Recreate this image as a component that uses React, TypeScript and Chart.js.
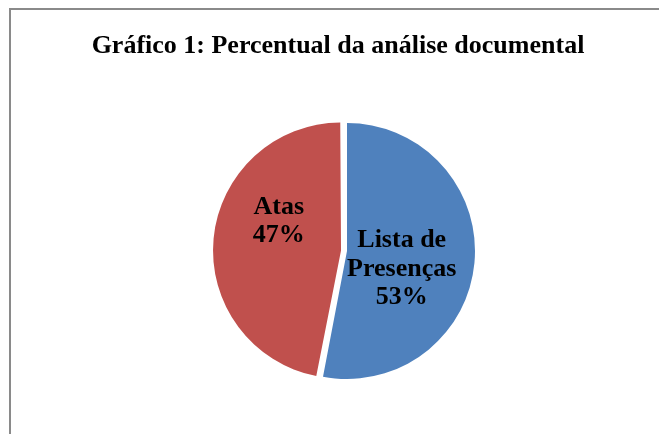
import React, { useEffect, useRef } from "react";
import { Chart, registerables } from "chart.js";

Chart.register(...registerables);

const chartTitle = "Gráfico 1: Percentual da análise documental";
const categories: string[][] = [["Lista de", "Presenças"], ["Atas"]];
const values: number[] = [53, 47];
const sliceColors: string[] = ["#4F81BD", "#C0504D"];
const sliceOffsets: number[] = [0, 24];

const FONT = '"Liberation Serif", "Times New Roman", serif';

const frameAndTitle = {
  id: "frameAndTitle",
  beforeDraw(chart: any) {
    const ctx = chart.ctx;
    ctx.save();
    ctx.fillStyle = "#ffffff";
    ctx.fillRect(0, 0, chart.width, chart.height);
    ctx.strokeStyle = "#8a8a8a";
    ctx.lineWidth = 2;
    ctx.beginPath();
    ctx.moveTo(10, chart.height);
    ctx.lineTo(10, 9);
    ctx.lineTo(chart.width, 9);
    ctx.stroke();
    ctx.fillStyle = "#000000";
    ctx.font = `bold 26px ${FONT}`;
    ctx.textAlign = "center";
    ctx.textBaseline = "alphabetic";
    ctx.fillText(chartTitle, 338, 53);
    ctx.restore();
  },
};

// keep exploded slice radius equal to others (Chart.js enlarges offset arcs)
const equalRadius = {
  id: "equalRadius",
  afterDatasetUpdate(chart: any, args: any) {
    const meta = chart.getDatasetMeta(args.index);
    meta.data.forEach((arc: any, i: number) => {
      const off = (sliceOffsets[i] || 0) / 4;
      const circ = arc.endAngle - arc.startAngle;
      const fix = 1 - Math.sin(Math.min(Math.PI, circ));
      arc.outerRadius = arc.outerRadius - off * fix;
    });
  },
};

const labelNudges = [
  { dx: -9, dy: -10 },
  { dx: -1, dy: -31 },
];

const sliceLabels = {
  id: "sliceLabels",
  afterDatasetsDraw(chart: any) {
    const ctx = chart.ctx;
    const meta = chart.getDatasetMeta(0);
    const total = values.reduce((a, b) => a + b, 0);
    ctx.save();
    ctx.fillStyle = "#000000";
    ctx.font = `bold 26px ${FONT}`;
    ctx.textAlign = "center";
    ctx.textBaseline = "alphabetic";
    meta.data.forEach((arc: any, i: number) => {
      const mid = (arc.startAngle + arc.endAngle) / 2;
      const shift = (sliceOffsets[i] || 0) / 4;
      const cx = arc.x + Math.cos(mid) * shift;
      const cy = arc.y + Math.sin(mid) * shift;
      const r = arc.outerRadius * 0.5;
      const ax = cx + Math.cos(mid) * r + labelNudges[i].dx;
      const ay = cy + Math.sin(mid) * r + labelNudges[i].dy;
      const lines = [...categories[i], Math.round((values[i] / total) * 100) + "%"];
      lines.forEach((line, j) => {
        ctx.fillText(line, ax, ay + j * 28.5);
      });
    });
    ctx.restore();
  },
};

export default function App() {
  const ref = useRef<HTMLCanvasElement | null>(null);

  useEffect(() => {
    if (!ref.current) return;
    const chart = new Chart(ref.current, {
      type: "pie",
      data: {
        labels: categories,
        datasets: [
          {
            data: values,
            backgroundColor: sliceColors,
            borderWidth: 0,
            offset: sliceOffsets,
          },
        ],
      },
      options: {
        responsive: false,
        animation: false,
        events: [],
        layout: { padding: { left: 207, top: 111, right: 172, bottom: 43 } },
        plugins: {
          legend: { display: false },
          title: { display: false },
          tooltip: { enabled: false },
        },
      },
      plugins: [frameAndTitle, equalRadius, sliceLabels],
    });
    return () => chart.destroy();
  }, []);

  return (
    <div style={{ position: "absolute", left: 0, top: 0, width: 659, height: 434 }}>
      <canvas ref={ref} width={659} height={434} style={{ display: "block" }} />
    </div>
  );
}
